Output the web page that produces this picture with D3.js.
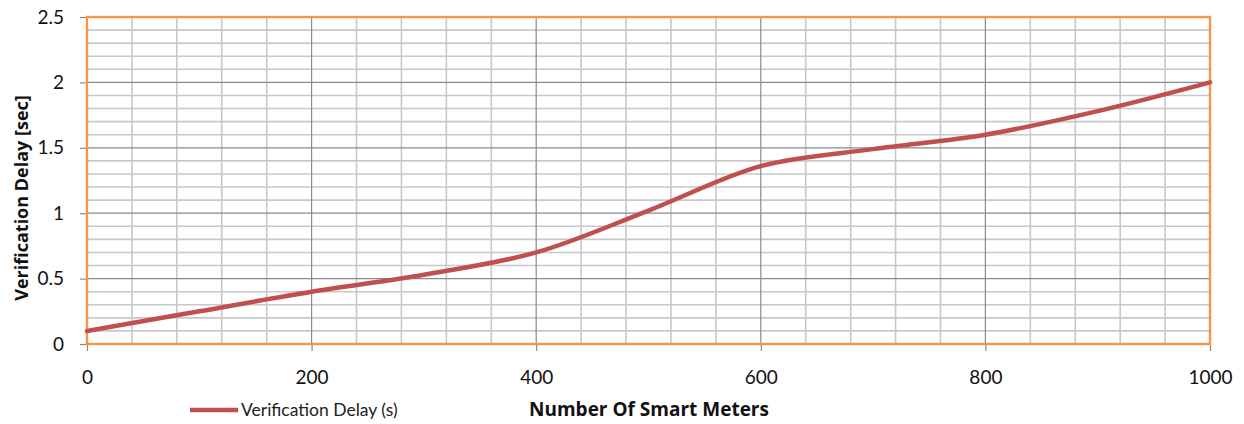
<!DOCTYPE html>
<html>
<head>
<meta charset="utf-8">
<script src="https://cdn.jsdelivr.net/npm/d3@7"></script>
<style>
  html, body { margin: 0; padding: 0; background: #fff; }
  svg { display: block; font-family: Lato, "Open Sans", sans-serif; }
</style>
</head>
<body>
<svg id="chart" width="1244" height="424"></svg>
<script>
// Number of smart meters and the measured verification delay (seconds)
const meters = [0, 100, 200, 300, 400, 500, 600, 700, 800, 900, 1000];
const delay  = [0.1, 0.25, 0.4, 0.53, 0.7, 1.02, 1.36, 1.49, 1.6, 1.78, 2.0];
const xTicks = [0, 200, 400, 600, 800, 1000];
const yTicks = [0, 0.5, 1, 1.5, 2, 2.5];
const seriesName = "Verification Delay (s)";
const xTitle = "Number Of Smart Meters";
const yTitle = "Verification Delay [sec]";

const svg = d3.select("#chart");
const m = { left: 87, right: 34, top: 17, bottom: 80 };
const W = 1244, H = 424;
const x = d3.scaleLinear().domain([0, 1000]).range([m.left, W - m.right]);
const y = d3.scaleLinear().domain([0, 2.5]).range([H - m.bottom, m.top]);

const grid = svg.append("g");
// minor grid: every 40 meters and every 0.1 s
grid.selectAll(".vx").data(d3.range(0, 1001, 40).filter(v => v % 200 !== 0))
  .join("line").attr("x1", d => x(d)).attr("x2", d => x(d))
  .attr("y1", y(0)).attr("y2", y(2.5))
  .attr("stroke", "#c8c8c8").attr("stroke-width", 1.6);
grid.selectAll(".hy").data(d3.range(1, 25).filter(i => i % 5 !== 0).map(i => i / 10))
  .join("line").attr("x1", x(0)).attr("x2", x(1000))
  .attr("y1", d => y(d)).attr("y2", d => y(d))
  .attr("stroke", "#c8c8c8").attr("stroke-width", 1.6);
// major grid
svg.append("g").selectAll("line").data(xTicks.slice(1, -1))
  .join("line").attr("x1", d => x(d)).attr("x2", d => x(d))
  .attr("y1", y(0)).attr("y2", y(2.5))
  .attr("stroke", "#8a8a8a").attr("stroke-width", 1.2);
svg.append("g").selectAll("line").data(yTicks.slice(1, -1))
  .join("line").attr("x1", x(0)).attr("x2", x(1000))
  .attr("y1", d => y(d)).attr("y2", d => y(d))
  .attr("stroke", "#8a8a8a").attr("stroke-width", 1.2);

// axes
const yAxis = svg.append("g").attr("transform", `translate(${x(0)},0)`)
  .call(d3.axisLeft(y).tickValues(yTicks).tickFormat(d3.format("")).tickSize(7).tickPadding(16));
const xAxis = svg.append("g").attr("transform", `translate(0,${y(0)})`)
  .call(d3.axisBottom(x).tickValues(xTicks).tickFormat(d3.format("d")).tickSize(7).tickPadding(20));
[yAxis, xAxis].forEach(a => {
  a.select(".domain").remove();
  a.selectAll(".tick line").attr("stroke", "#8a8a8a").attr("stroke-width", 1.2);
  a.selectAll(".tick text").attr("fill", "#111").attr("font-size", 19).attr("font-family", "Lato, sans-serif");
});

// plot area border
svg.append("rect").attr("x", x(0)).attr("y", y(2.5))
  .attr("width", x(1000) - x(0)).attr("height", y(0) - y(2.5))
  .attr("fill", "none").attr("stroke", "#f79646").attr("stroke-width", 2.4);

// series line
const line = d3.line().x((d, i) => x(meters[i])).y(d => y(d)).curve(d3.curveCatmullRom.alpha(0.5));
svg.append("path").datum(delay).attr("d", line)
  .attr("fill", "none").attr("stroke", "#c0504d").attr("stroke-width", 4.5)
  .attr("stroke-linecap", "round");

// legend and axis titles
svg.append("line").attr("x1", 190).attr("x2", 238).attr("y1", 410).attr("y2", 410)
  .attr("stroke", "#c0504d").attr("stroke-width", 4.5);
svg.append("text").attr("x", 241).attr("y", 416).attr("font-size", 17.5)
  .attr("fill", "#222").text(seriesName);
svg.append("text").attr("x", 649).attr("y", 416).attr("text-anchor", "middle")
  .attr("font-family", "'Open Sans', sans-serif")
  .attr("font-size", 19).attr("font-weight", "bold").attr("fill", "#111").text(xTitle);
svg.append("text").attr("transform", "translate(28,198) rotate(-90)")
  .attr("text-anchor", "middle").attr("font-family", "'Open Sans', sans-serif")
  .attr("font-size", 18).attr("font-weight", "bold")
  .attr("fill", "#111").text(yTitle);
</script>
</body>
</html>
